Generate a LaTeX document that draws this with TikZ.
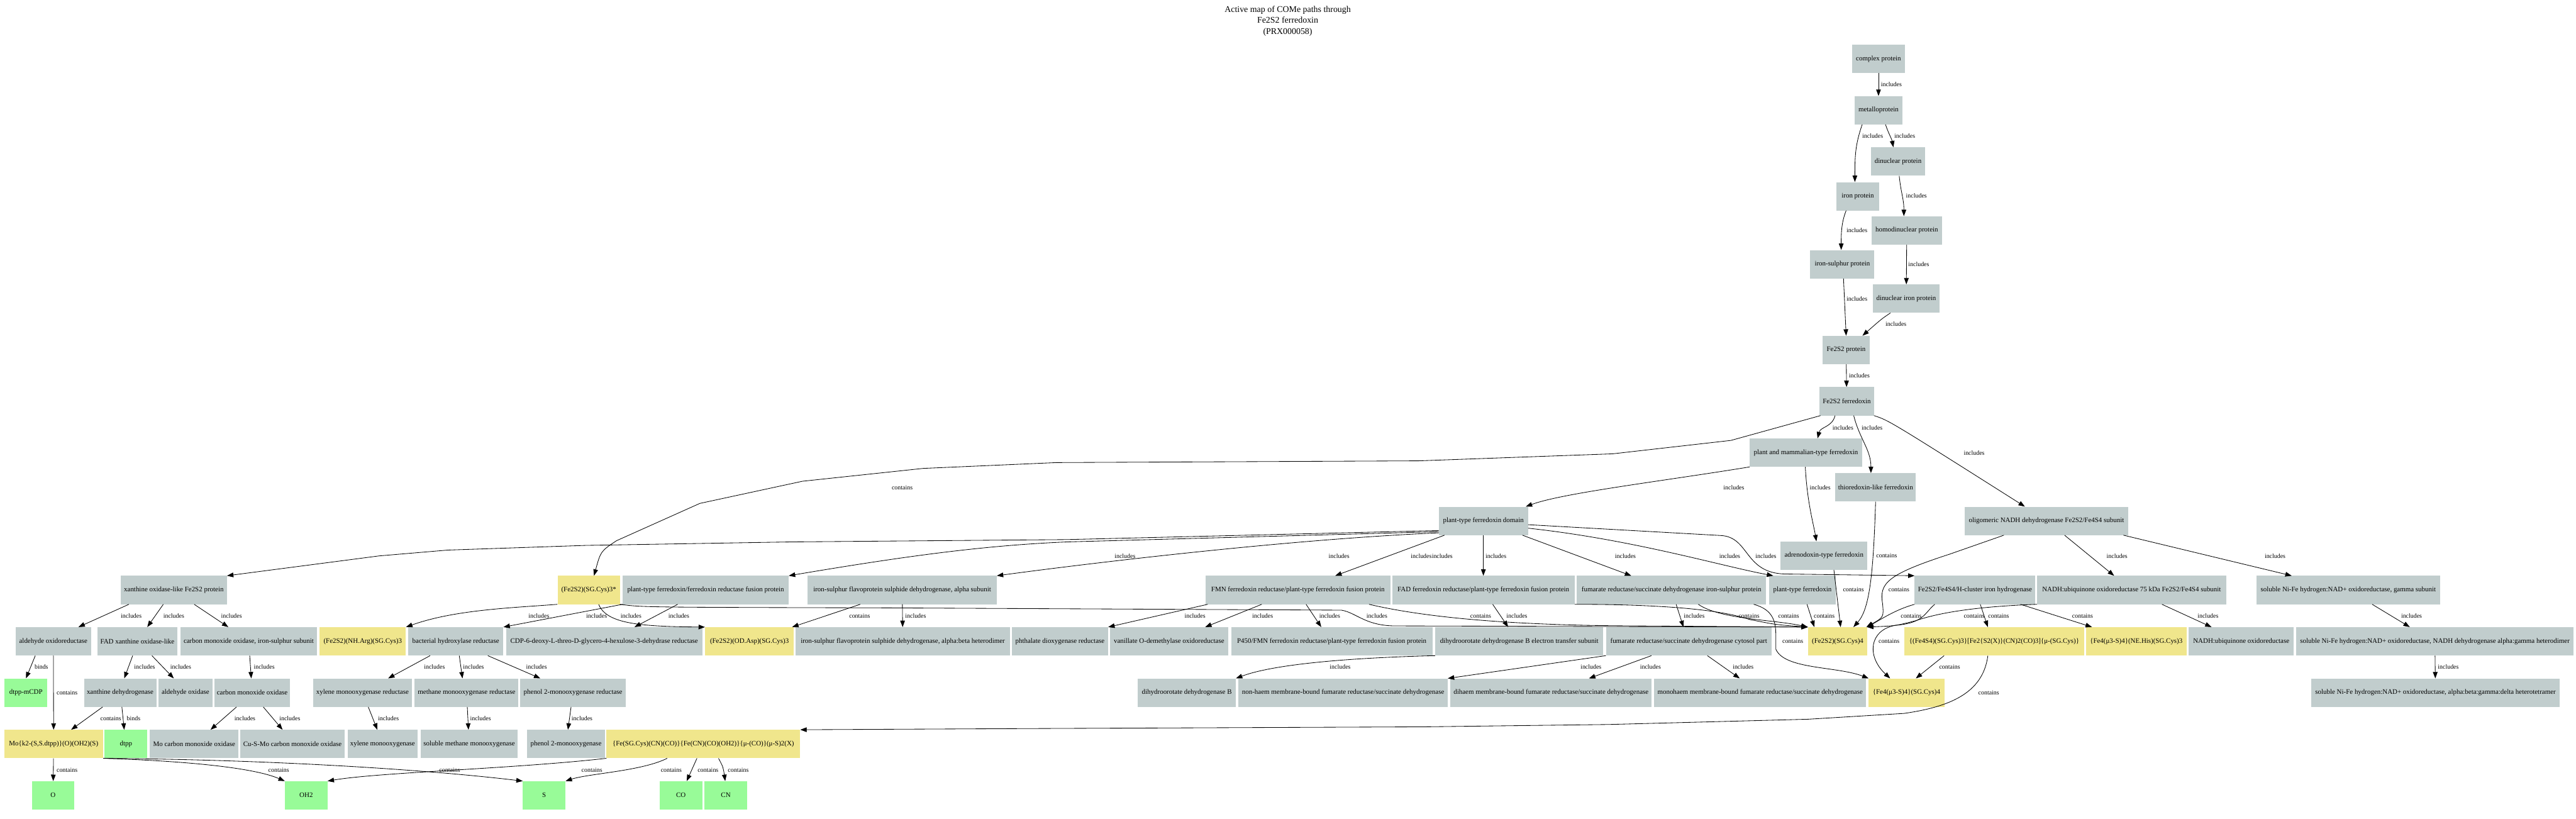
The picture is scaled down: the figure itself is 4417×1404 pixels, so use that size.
\documentclass[tikz,border=0pt]{standalone}
\usepackage{fontspec}
\setmainfont{Liberation Serif}
\usepackage{tikz}
\usetikzlibrary{arrows.meta}
\definecolor{azure}{HTML}{C1CDCD}
\definecolor{khaki}{HTML}{F0E68C}
\definecolor{palegreen}{HTML}{98FB98}
\newcommand{\protfont}{\fontsize{11.8}{13}\selectfont}
\newcommand{\edgefont}{\fontsize{10.7}{12}\selectfont}
\tikzset{
  protbox/.style={rectangle,fill=azure,minimum height=48.6pt,inner sep=2pt,font=\protfont},
  ligbox/.style={protbox,fill=khaki},
  atombox/.style={protbox,fill=palegreen,minimum width=73pt},
  maptitle/.style={align=center,font=\fontsize{15}{19}\selectfont},
  arrow/.style={-{Triangle[length=11pt,width=8pt]},line width=0.9pt,draw=black},
  tag/.style={font=\edgefont,inner sep=0pt}
}
\begin{document}
\begin{tikzpicture}[x=1pt,y=-1pt]
  \useasboundingbox (0,0) rectangle (4417,1404);
  \node[maptitle] (title) at (2208,36) {Active map of COMe paths through\\Fe2S2 ferredoxin\\(PRX000058)};
  % upper chain
  \node[protbox,minimum width=90pt] (complex) at (3221,101) {complex protein};
  \node[protbox,minimum width=82pt] (metallo) at (3221,189) {metalloprotein};
  \node[protbox,minimum width=93pt] (dinuc) at (3254.5,277) {dinuclear protein};
  \node[protbox,minimum width=73pt] (ironprot) at (3185.5,336.5) {iron protein};
  \node[protbox,minimum width=121pt] (homodinuc) at (3269.5,395) {homodinuclear protein};
  \node[protbox,minimum width=110pt] (ironsulphur) at (3159,453) {iron-sulphur protein};
  \node[protbox,minimum width=115pt] (dinuciron) at (3268.5,512) {dinuclear iron protein};
  \node[protbox,minimum width=81pt] (fe2s2prot) at (3165.5,600) {Fe2S2 protein};
  \node[protbox,minimum width=93pt] (fdx) at (3166.5,688) {Fe2S2 ferredoxin};
  \node[protbox,minimum width=193pt] (plantmam) at (3096.5,776) {plant and mammalian-type ferredoxin};
  \node[protbox,minimum width=138pt] (thiored) at (3216,835.5) {thioredoxin-like ferredoxin};
  \node[protbox,minimum width=280pt] (oligo) at (3509,893) {oligomeric NADH dehydrogenase Fe2S2/Fe4S4 subunit};
  \node[protbox,minimum width=153pt] (ptdomain) at (2543.5,893) {plant-type ferredoxin domain};
  \node[protbox,minimum width=149pt] (adreno) at (3127.5,952.5) {adrenodoxin-type ferredoxin};
  % row 1
  \node[protbox,minimum width=182pt] (xol) at (298,1011.5) {xanthine oxidase-like Fe2S2 protein};
  \node[ligbox,minimum width=107pt] (sgcys3s) at (1009.5,1011.5) {(Fe2S2)(SG.Cys)3*};
  \node[protbox,minimum width=284.5pt] (pfusion) at (1210,1011.5) {plant-type ferredoxin/ferredoxin reductase fusion protein};
  \node[protbox,minimum width=324pt] (isfpa) at (1547,1011.5) {iron-sulphur flavoprotein sulphide dehydrogenase, alpha subunit};
  \node[protbox,minimum width=317pt] (fmnfus) at (2225.5,1011.5) {FMN ferredoxin reductase/plant-type ferredoxin fusion protein};
  \node[protbox,minimum width=313pt] (fadfus) at (2543.5,1011.5) {FAD ferredoxin reductase/plant-type ferredoxin fusion protein};
  \node[protbox,minimum width=324.5pt] (frdis) at (2866,1011.5) {fumarate reductase/succinate dehydrogenase iron-sulphur protein};
  \node[protbox,minimum width=115pt] (ptfdx) at (3090.5,1011.5) {plant-type ferredoxin};
  \node[protbox,minimum width=207pt] (hydrog) at (3386.5,1011.5) {Fe2S2/Fe4S4/H-cluster iron hydrogenase};
  \node[protbox,minimum width=324pt] (nadh75) at (3655,1011.5) {NADH:ubiquinone oxidoreductase 75 kDa Fe2S2/Fe4S4 subunit};
  \node[protbox,minimum width=315pt] (nigamma) at (4026.5,1011.5) {soluble Ni-Fe hydrogen:NAD+ oxidoreductase, gamma subunit};
  % row 2
  \node[protbox,minimum width=129pt] (aldor) at (91.5,1099.5) {aldehyde oxidoreductase};
  \node[protbox,minimum width=137pt] (fadxo) at (235.5,1099.5) {FAD xanthine oxidase-like};
  \node[protbox,minimum width=235pt] (cooxfes) at (426.5,1099.5) {carbon monoxide oxidase, iron-sulphur subunit};
  \node[ligbox,minimum width=148pt] (argcys) at (622,1099.5) {(Fe2S2)(NH.Arg)(SG.Cys)3};
  \node[protbox,minimum width=163pt] (bhr) at (781.5,1099.5) {bacterial hydroxylase reductase};
  \node[protbox,minimum width=336pt] (cdp) at (1036,1099.5) {CDP-6-deoxy-L-threo-D-glycero-4-hexulose-3-dehydrase reductase};
  \node[ligbox,minimum width=152pt] (aspcys) at (1285,1099.5) {(Fe2S2)(OD.Asp)(SG.Cys)3};
  \node[protbox,minimum width=368pt] (isfpab) at (1548,1099.5) {iron-sulphur flavoprotein sulphide dehydrogenase, alpha:beta heterodimer};
  \node[protbox,minimum width=165pt] (phthal) at (1817.5,1099.5) {phthalate dioxygenase reductase};
  \node[protbox,minimum width=203pt] (vanil) at (2004.5,1099.5) {vanillate O-demethylase oxidoreductase};
  \node[protbox,minimum width=345pt] (p450) at (2283.5,1099.5) {P450/FMN ferredoxin reductase/plant-type ferredoxin fusion protein};
  \node[protbox,minimum width=288pt] (dhodbet) at (2605,1099.5) {dihydroorotate dehydrogenase B electron transfer subunit};
  \node[protbox,minimum width=284pt] (frdcyt) at (2895.6,1099.5) {fumarate reductase/succinate dehydrogenase cytosol part};
  \node[ligbox,minimum width=102pt] (sgcys4) at (3151,1099.5) {(Fe2S2)(SG.Cys)4};
  \node[ligbox,minimum width=309pt] (hcluster) at (3419.5,1099.5) {\{(Fe4S4)(SG.Cys)3\}[Fe2\{S2(X)\}(CN)2(CO)3]\{μ-(SG.Cys)\}};
  \node[ligbox,minimum width=173pt] (hiscys) at (3663,1099.5) {\{Fe4(μ3-S)4\}(NE.His)(SG.Cys)3};
  \node[protbox,minimum width=180pt] (nuo) at (3843,1099.5) {NADH:ubiquinone oxidoreductase};
  \node[protbox,minimum width=476pt] (nialphagamma) at (4175,1099.5) {soluble Ni-Fe hydrogen:NAD+ oxidoreductase, NADH dehydrogenase alpha:gamma heterodimer};
  % row 3
  \node[atombox] (dtppmcdp) at (44.5,1187.5) {dtpp-mCDP};
  \node[protbox,minimum width=124pt] (xdh) at (206,1187.5) {xanthine dehydrogenase};
  \node[protbox,minimum width=92pt] (aldox) at (318,1187.5) {aldehyde oxidase};
  \node[protbox,minimum width=129pt] (coox) at (432.5,1187.5) {carbon monoxide oxidase};
  \node[protbox,minimum width=169pt] (xmor) at (621.5,1187.5) {xylene monooxygenase reductase};
  \node[protbox,minimum width=178pt] (mmor) at (800,1187.5) {methane monooxygenase reductase};
  \node[protbox,minimum width=181pt] (phr) at (982.5,1187.5) {phenol 2-monooxygenase reductase};
  \node[protbox,minimum width=168pt] (dhodb) at (2035,1187.5) {dihydroorotate dehydrogenase B};
  \node[protbox,minimum width=358.5pt] (nonhaem) at (2303,1187.5) {non-haem membrane-bound fumarate reductase/succinate dehydrogenase};
  \node[protbox,minimum width=345pt] (dihaem) at (2659.5,1187.5) {dihaem membrane-bound fumarate reductase/succinate dehydrogenase};
  \node[protbox,minimum width=364pt] (monohaem) at (3018,1187.5) {monohaem membrane-bound fumarate reductase/succinate dehydrogenase};
  \node[ligbox,minimum width=129.5pt] (fe4cys4) at (3269,1187.5) {\{Fe4(μ3-S)4\}(SG.Cys)4};
  \node[protbox,minimum width=426pt] (nitetra) at (4176,1187.5) {soluble Ni-Fe hydrogen:NAD+ oxidoreductase, alpha:beta:gamma:delta heterotetramer};
  % row 4
  \node[ligbox,minimum width=169.5pt] (mo) at (92,1275.5) {Mo\{k2-(S,S.dtpp)\}(O)(OH2)(S)};
  \node[atombox] (dtpp) at (216,1275.5) {dtpp};
  \node[protbox,minimum width=152pt] (mocoox) at (333,1275.5) {Mo carbon monoxide oxidase};
  \node[protbox,minimum width=179pt] (cusmo) at (501.5,1275.5) {Cu-S-Mo carbon monoxide oxidase};
  \node[protbox,minimum width=120pt] (xmo) at (656,1275.5) {xylene monooxygenase};
  \node[protbox,minimum width=167pt] (smmo) at (804.5,1275.5) {soluble methane monooxygenase};
  \node[protbox,minimum width=133pt] (pmo) at (970.5,1275.5) {phenol 2-monooxygenase};
  \node[ligbox,minimum width=332pt] (fecluster) at (1206,1275.5) {\{Fe(SG.Cys)(CN)(CO)\}\{Fe(CN)(CO)(OH2)\}\{μ-(CO)\}(μ-S)2(X)};
  % row 5
  \node[atombox] (O) at (91,1363.5) {O};
  \node[atombox] (OH2) at (525,1363.5) {OH2};
  \node[atombox] (S) at (933,1363.5) {S};
  \node[atombox] (CO) at (1167.5,1363.5) {CO};
  \node[atombox] (CN) at (1244.5,1363.5) {CN};

  % upper chain
  \draw[arrow] (complex) -- (metallo) node[tag] at (3243,145) {includes};
  \draw[arrow] ([xshift=-28pt]metallo.south) .. controls +(-12,35) and +(0,-45) .. ([xshift=-5pt]ironprot.north) node[tag] at (3211,233) {includes};
  \draw[arrow] ([xshift=12pt]metallo.south) .. controls +(5,15) and +(-3,-15) .. ([xshift=-8pt]dinuc.north) node[tag] at (3266,233) {includes};
  \draw[arrow] ([xshift=2pt]dinuc.south) .. controls +(3,30) and +(0,-30) .. ([xshift=-5pt]homodinuc.north) node[tag] at (3286,336) {includes};
  \draw[arrow] ([xshift=-20pt]ironprot.south) .. controls +(-8,20) and +(0,-30) .. ([xshift=-2pt]ironsulphur.north) node[tag] at (3184,395) {includes};
  \draw[arrow] (homodinuc) -- (dinuciron) node[tag] at (3290,453) {includes};
  \draw[arrow] ([xshift=2pt]ironsulphur.south) -- (fe2s2prot.north) node[tag] at (3184,512) {includes};
  \draw[arrow] ([xshift=-27pt]dinuciron.south) .. controls +(-15,10) .. ([xshift=28pt]fe2s2prot.north) node[tag] at (3251,556) {includes};
  \draw[arrow] (fe2s2prot) -- (fdx) node[tag] at (3188,644) {includes};
  % Fe2S2 ferredoxin
  \draw[arrow] ([xshift=-20pt]fdx.south) .. controls +(-5,20) and +(5,-20) .. ([xshift=20pt]plantmam.north) node[tag] at (3160,733) {includes};
  \draw[arrow] ([xshift=12pt]fdx.south) .. controls +(10,40) and +(0,-40) .. ([xshift=-8pt]thiored.north) node[tag] at (3210,733) {includes};
  \draw[arrow] (fdx.south east) .. controls +(25,8) .. ([xshift=-37pt]oligo.north) node[tag] at (3385,777) {includes};
  \draw[arrow] ([xshift=-45pt]fdx.south) -- (2968,755) -- (2765,778) -- (2433,790) -- (1812,793) -- (1583,803) -- (1376,825) -- (1200,863) -- (1057,927) .. controls (1030,945) .. ([xshift=9pt]sgcys3s.north) node[tag] at (1547,836) {contains};
  % plant and mammalian-type ferredoxin
  \draw[arrow] (plantmam.south west) .. controls (2850,825) and (2680,845) .. ([xshift=-4pt]ptdomain.north east) node[tag] at (2973,836) {includes};
  \draw[arrow] ([xshift=-1pt]plantmam.south) .. controls +(3,60) and +(-5,-30) .. ([xshift=-13pt]adreno.north) node[tag] at (3121,836) {includes};
  \draw[arrow] (thiored.south) .. controls (3212,990) and (3205,1045) .. ([xshift=27pt]sgcys4.north) node[tag] at (3235,953) {contains};
  \draw[arrow] ([xshift=-73pt]oligo.south) -- (3343,950) .. controls (3235,985) and (3222,1000) .. (3228,1035) .. controls (3230,1058) .. ([xshift=-2pt]sgcys4.north east) node[tag] at (3256,1011) {contains};
  \draw[arrow] ([xshift=31pt]oligo.south) -- ([xshift=-30pt]nadh75.north) node[tag] at (3630,953) {includes};
  \draw[arrow] ([xshift=132pt]oligo.south) -- ([xshift=-97pt]nigamma.north) node[tag] at (3901,953) {includes};
  % plant-type ferredoxin domain
  \draw[arrow] ([yshift=8pt]ptdomain.south west) -- (1830,925) -- (1358,929) -- (1004,935) -- (768,943) -- (650,953) -- (xol.north east) node[tag] at (2437,953) {includes};
  \draw[arrow] ([yshift=6pt]ptdomain.south west) -- (1830,929) .. controls (1690,935) and (1560,952) .. (pfusion.north east) node[tag] at (2473,953) {includes};
  \draw[arrow] ([yshift=4pt]ptdomain.south west) .. controls (2200,925) and (1850,968) .. (isfpa.north east) node[tag] at (1929,953) {includes};
  \draw[arrow] ([xshift=10pt]ptdomain.south west) -- ([xshift=64pt]fmnfus.north) node[tag] at (2296,953) {includes};
  \draw[arrow] (ptdomain) -- (fadfus) node[tag] at (2565,953) {includes};
  \draw[arrow] ([xshift=67pt]ptdomain.south) -- ([xshift=-69pt]frdis.north) node[tag] at (2787,953) {includes};
  \draw[arrow] ([yshift=12pt]ptdomain.south east) .. controls (2800,925) and (2950,970) .. ([xshift=-50pt]ptfdx.north) node[tag] at (2966,953) {includes};
  \draw[arrow] ([yshift=18pt]ptdomain.south east) -- (2950,918) .. controls (3000,920) and (2990,982) .. (3060,984) -- (hydrog.north west) node[tag] at (3028,953) {includes};
  % (Fe2S2)(SG.Cys)3*
  \draw[arrow] (sgcys3s.south west) .. controls (880,1042) and (780,1045) .. (argcys.north east) node[tag] at (1023,1056) {includes};
  \draw[arrow] ([xshift=17pt]sgcys3s.south) .. controls (1040,1070) and (1100,1074) .. (aspcys.north west) node[tag] at (1082,1056) {includes};
  \draw[arrow] (sgcys3s.south east) .. controls (1100,1041) .. (1500,1042) -- (2300,1046) .. controls (2325,1050) and (2340,1072) .. (2390,1073) -- (sgcys4.north west) node[tag] at (2361,1056) {includes};
  % plant-type ferredoxin/ferredoxin reductase fusion protein
  \draw[arrow] (pfusion.south west) -- (bhr.north east) node[tag] at (924,1056) {includes};
  \draw[arrow] ([xshift=-48pt]pfusion.south) -- ([xshift=52pt]cdp.north) node[tag] at (1164,1056) {includes};
  % iron-sulphur flavoprotein
  \draw[arrow] ([xshift=-72pt]isfpa.south) -- ([xshift=-3pt]aspcys.north east) node[tag] at (1474,1056) {contains};
  \draw[arrow] (isfpa) -- (isfpab) node[tag] at (1570,1056) {includes};
  % FMN fusion
  \draw[arrow] ([xshift=4pt]fmnfus.south west) -- (phthal.north east) node[tag] at (2049,1056) {includes};
  \draw[arrow] ([xshift=-62pt]fmnfus.south) -- ([xshift=62pt]vanil.north) node[tag] at (2165,1056) {includes};
  \draw[arrow] ([xshift=14pt]fmnfus.south) -- ([xshift=-18pt]p450.north) node[tag] at (2280,1056) {includes};
  \draw[arrow] ([xshift=122pt]fmnfus.south) .. controls (2450,1060) and (2600,1072) .. (2800,1073) -- (sgcys4.north west) node[tag] at (2539,1056) {contains};
  % FAD fusion
  \draw[arrow] ([xshift=16pt]fadfus.south) -- ([xshift=-19pt]dhodbet.north) node[tag] at (2601,1056) {includes};
  \draw[arrow] (fadfus.south east) .. controls (2850,1036) and (2950,1045) .. (3000,1062) .. controls (3045,1071) .. (sgcys4.north west) node[tag] at (2999,1056) {contains};
  % fumarate reductase iron-sulphur protein
  \draw[arrow] ([xshift=8pt]frdis.south) -- ([xshift=-9pt]frdcyt.north) node[tag] at (2905,1056) {includes};
  \draw[arrow] ([xshift=46pt]frdis.south) .. controls (2950,1062) and (3040,1062) .. (sgcys4.north west) node[tag] at (3067,1056) {contains};
  \draw[arrow] ([xshift=141pt]frdis.south) .. controls (3040,1045) and (3045,1065) .. (3045,1090) -- (3045,1113) .. controls (3060,1148) and (3150,1142) .. (fe4cys4.north west) node[tag] at (3074,1099) {contains};
  \draw[arrow] (ptfdx) -- ([xshift=-40pt]sgcys4.north) node[tag] at (3128,1056) {contains};
  \draw[arrow] ([xshift=17pt]adreno.south) -- ([xshift=5pt]sgcys4.north) node[tag] at (3178,1011) {contains};
  % iron hydrogenase
  \draw[arrow] (hydrog.south west) .. controls (3250,1045) and (3225,1062) .. ([xshift=-1pt]sgcys4.north east) node[tag] at (3277,1056) {contains};
  \draw[arrow] ([xshift=-69pt]hydrog.south) .. controls (3300,1050) and (3300,1068) .. (3250,1072) .. controls (3205,1080) and (3200,1125) .. ([xshift=-28pt]fe4cys4.north) node[tag] at (3239,1099) {contains};
  \draw[arrow] ([xshift=9pt]hydrog.south) -- ([xshift=-11pt]hcluster.north) node[tag] at (3385,1056) {contains};
  \draw[arrow] ([xshift=78pt]hydrog.south) -- ([xshift=-76pt]hiscys.north) node[tag] at (3571,1056) {contains};
  % NADH dehydrogenase
  \draw[arrow] (nadh75.south west) .. controls (3380,1040) and (3320,1052) .. (3285,1064) .. controls (3250,1073) .. ([xshift=-1pt]sgcys4.north east) node[tag] at (3427,1056) {contains};
  \draw[arrow] ([xshift=52pt]nadh75.south) -- ([xshift=-51pt]nuo.north) node[tag] at (3786,1056) {includes};
  \draw[arrow] ([xshift=41pt]nigamma.south) -- ([xshift=-43pt]nialphagamma.north) node[tag] at (4135,1056) {includes};
  \draw[arrow] (nialphagamma) -- (nitetra) node[tag] at (4198,1143) {includes};
  % H-cluster
  \draw[arrow] ([xshift=-86pt]hcluster.south) -- ([xshift=16pt]fe4cys4.north) node[tag] at (3343,1143) {contains};
  \draw[arrow] ([xshift=-11pt]hcluster.south) .. controls (3400,1190) and (3340,1212) .. (3265,1223) -- (3100,1233) -- (2759,1242) -- (2443,1246) -- (1763,1249) -- (fecluster.north east) node[tag] at (3410,1188) {contains};
  % fumarate reductase cytosol part
  \draw[arrow] (frdcyt.south west) -- (nonhaem.north east) node[tag] at (2728,1143) {includes};
  \draw[arrow] ([xshift=-64pt]frdcyt.south) -- ([xshift=65pt]dihaem.north) node[tag] at (2830,1143) {includes};
  \draw[arrow] ([xshift=32pt]frdcyt.south) -- ([xshift=-35pt]monohaem.north) node[tag] at (2989,1143) {includes};
  \draw[arrow] (dhodbet.south west) .. controls (2300,1128) and (2180,1140) .. (dhodb.north east) node[tag] at (2298,1143) {includes};
  % xanthine oxidase-like
  \draw[arrow] ([xshift=-77pt]xol.south) -- ([xshift=43pt]aldor.north) node[tag] at (225,1056) {includes};
  \draw[arrow] ([xshift=-18pt]xol.south) -- ([xshift=17pt]fadxo.north) node[tag] at (298,1056) {includes};
  \draw[arrow] ([xshift=35pt]xol.south) -- ([xshift=-35pt]cooxfes.north) node[tag] at (397,1056) {includes};
  \draw[arrow] ([xshift=-31pt]aldor.south) -- (dtppmcdp.north) node[tag] at (71,1143) {binds};
  \draw[arrow] (aldor) -- (mo) node[tag] at (115,1188) {contains};
  \draw[arrow] ([xshift=-8pt]fadxo.south) -- ([xshift=7pt]xdh.north) node[tag] at (248,1143) {includes};
  \draw[arrow] ([xshift=25pt]fadxo.south) -- ([xshift=-20pt]aldox.north) node[tag] at (310,1143) {includes};
  \draw[arrow] (cooxfes) -- (coox) node[tag] at (453,1143) {includes};
  \draw[arrow] ([xshift=-30pt]xdh.south) -- ([xshift=30pt]mo.north) node[tag] at (190,1232) {contains};
  \draw[arrow] ([xshift=3pt]xdh.south) -- ([xshift=-3pt]dtpp.north) node[tag] at (229,1232) {binds};
  \draw[arrow] ([xshift=-27pt]coox.south) -- ([xshift=28pt]mocoox.north) node[tag] at (420,1232) {includes};
  \draw[arrow] ([xshift=19pt]coox.south) -- ([xshift=-17pt]cusmo.north) node[tag] at (497,1232) {includes};
  % bacterial hydroxylase reductase
  \draw[arrow] ([xshift=-44pt]bhr.south) -- ([xshift=44pt]xmor.north) node[tag] at (745,1143) {includes};
  \draw[arrow] ([xshift=6pt]bhr.south) -- ([xshift=-7pt]mmor.north) node[tag] at (812,1143) {includes};
  \draw[arrow] ([xshift=55pt]bhr.south) -- ([xshift=-56pt]phr.north) node[tag] at (920,1143) {includes};
  \draw[arrow] ([xshift=10pt]xmor.south) -- ([xshift=-9pt]xmo.north) node[tag] at (666,1232) {includes};
  \draw[arrow] (mmor) -- (smmo) node[tag] at (824,1232) {includes};
  \draw[arrow] (phr) -- (pmo) node[tag] at (998,1232) {includes};
  % metal clusters
  \draw[arrow] (mo) -- (O) node[tag] at (115,1320) {contains};
  \draw[arrow] (mo.south east) .. controls (300,1304) and (430,1314) .. (OH2.north west) node[tag] at (478,1320) {contains};
  \draw[arrow] (mo.south east) .. controls (450,1302) and (720,1318) .. (S.north west) node[tag] at (771,1320) {contains};
  \draw[arrow] (fecluster.south west) .. controls (880,1318) and (650,1324) .. (OH2.north east) node[tag] at (1015,1320) {contains};
  \draw[arrow] ([xshift=-62pt]fecluster.south) .. controls (1100,1322) and (1010,1326) .. (S.north east) node[tag] at (1151,1320) {contains};
  \draw[arrow] ([xshift=-11pt]fecluster.south) -- ([xshift=10pt]CO.north) node[tag] at (1214,1320) {contains};
  \draw[arrow] ([xshift=26pt]fecluster.south) .. controls +(8,15) .. ([xshift=-1pt]CN.north) node[tag] at (1266,1320) {contains};
\end{tikzpicture}
\end{document}
